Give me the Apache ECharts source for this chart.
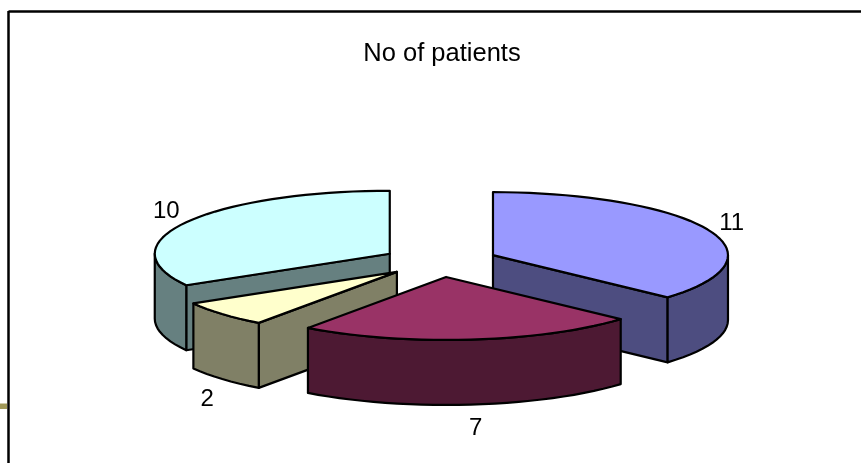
<!DOCTYPE html>
<html><head><meta charset="utf-8">
<style>html,body{margin:0;padding:0;background:#fff}#c{width:861px;height:463px}</style>
<script src="https://cdn.jsdelivr.net/npm/echarts@6/dist/echarts.min.js"></script>
</head><body><div id="c"></div>
<script>
const chartTitle = 'No of patients';
const values = [11, 7, 2, 10];
const topColors = ['#9999ff', '#993366', '#ffffcc', '#ccffff'];
const wallColors = ['#4d4d80', '#4d1933', '#808066', '#668080'];
const labelNudges = [[24, -6], [5, 89], [-15, 85], [-20, -11]];

const pie = { cx: 440, cy: 261.5, rx: 235, ry: 63, depth: 65, explode: 58 };
const rad = d => d * Math.PI / 180;
const total = values.reduce((a, b) => a + b, 0);
let acc = 0;
const slices = values.map((v, i) => {
  const a0 = acc / total * 360; acc += v; const a1 = acc / total * 360;
  const mid = rad((a0 + a1) / 2);
  return { i, v, a0, a1,
    c: [pie.cx + pie.explode * Math.sin(mid), pie.cy - pie.explode * pie.ry / pie.rx * Math.cos(mid)] };
});
const rim = (s, a) => [s.c[0] + pie.rx * Math.sin(rad(a)), s.c[1] - pie.ry * Math.cos(rad(a))];
const arc = (s, a, b) => { const p = []; const n = Math.max(2, Math.ceil(Math.abs(b - a) / 3));
  for (let k = 0; k <= n; k++) p.push(rim(s, a + (b - a) * k / n)); return p; };
const down = p => [p[0], p[1] + pie.depth];
const poly = (points, fill) => ({ type: 'polygon', shape: { points },
  style: { fill, stroke: '#000', lineWidth: 2.2, lineJoin: 'round' } });

const order = slices.slice().sort((p, q) => p.c[1] - q.c[1]);

function renderItem(params) {
  const s = order[params.dataIndex];
  const kids = [];
  const wall = wallColors[s.i];
  // radial wall whose face looks toward the viewer
  [s.a0, s.a1].forEach((a, j) => {
    const normal = a + (j === 0 ? -90 : 90);
    if (Math.cos(rad(normal)) < -0.01) {
      const r = rim(s, a);
      kids.push(poly([s.c, r, down(r), down(s.c)], wall));
    }
  });
  // outer wall for the front half of the circle
  const lo = Math.max(s.a0, 90), hi = Math.min(s.a1, 270);
  if (hi > lo) {
    const top = arc(s, lo, hi);
    kids.push(poly(top.concat(top.map(down).reverse()), wall));
  }
  // top face
  kids.push(poly([s.c].concat(arc(s, s.a0, s.a1)), topColors[s.i]));
  return { type: 'group', children: kids };
}
function renderLabel(params) {
  const s = slices[params.dataIndex];
  const p = rim(s, (s.a0 + s.a1) / 2);
  const n = labelNudges[s.i];
  return { type: 'text', style: { x: p[0] + n[0], y: p[1] + n[1], text: String(s.v),
    fill: '#000', font: '24px "Liberation Sans", Arial, sans-serif', align: 'center', verticalAlign: 'middle' } };
}

const chart = echarts.init(document.getElementById('c'), null, { renderer: 'canvas' });
chart.setOption({
  animation: false,
  backgroundColor: '#fff',
  title: { text: chartTitle, left: 442, top: 40.5, textAlign: 'center', padding: 0,
    textStyle: { fontFamily: '"Liberation Sans", Arial, sans-serif', fontSize: 25.5, fontWeight: 'normal', color: '#000' } },
  graphic: [
    { type: 'rect', shape: { x: 0, y: 403.5, width: 7, height: 5.5 }, style: { fill: '#a09858' } },
    { type: 'line', shape: { x1: 8.5, y1: 11.5, x2: 861, y2: 11.5 }, style: { stroke: '#000', lineWidth: 2.5 } },
    { type: 'line', shape: { x1: 8.5, y1: 11, x2: 8.5, y2: 463 }, style: { stroke: '#000', lineWidth: 2.5 } }
  ],
  series: [
    { type: 'custom', coordinateSystem: 'none', data: order.map(s => s.v), renderItem, silent: true },
    { type: 'custom', coordinateSystem: 'none', data: values, renderItem: renderLabel, silent: true, z: 5 }
  ]
});
</script></body></html>
